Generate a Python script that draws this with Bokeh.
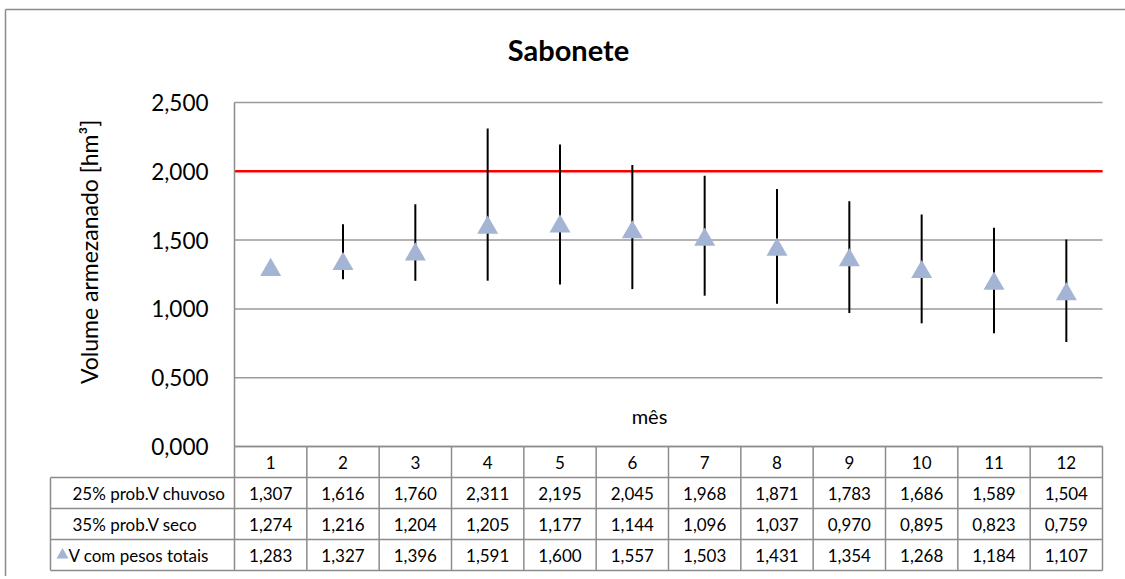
from math import pi
from bokeh.plotting import figure
from bokeh.models import (Range1d, FixedTicker, CustomJSTickFormatter, Label, LinearAxis,
                          ColumnDataSource, Grid)
from bokeh.embed import file_html
from bokeh.resources import INLINE
from bokeh.core.properties import value

# ---------------- data ----------------
titulo = "Sabonete"
eixo_y = "Volume  armezanado [hm³]"
eixo_x = "mês"
meses = [1, 2, 3, 4, 5, 6, 7, 8, 9, 10, 11, 12]
chuvoso = [1.307, 1.616, 1.760, 2.311, 2.195, 2.045, 1.968, 1.871, 1.783, 1.686, 1.589, 1.504]
seco = [1.274, 1.216, 1.204, 1.205, 1.177, 1.144, 1.096, 1.037, 0.970, 0.895, 0.823, 0.759]
pesos = [1.283, 1.327, 1.396, 1.591, 1.600, 1.557, 1.503, 1.431, 1.354, 1.268, 1.184, 1.107]
serie_nomes = ["25% prob.V chuvoso", "35% prob.V seco", "V com pesos totais"]
y_ticks = [0.0, 0.5, 1.0, 1.5, 2.0, 2.5]
limite = 2.0

# ---------------- layout (pixels) ----------------
FONT = "Lato"
GRAY = "#8c8c8c"
GRID = "#9a9a9a"
TRI = "#a3b4d4"
W, H = 1125, 576
F_L, F_R = 234, 1102          # plot area left/right
P_TOP, P_BOT = 102, 446       # plot area top / zero line
T_L = 50                      # table left edge
ROW = 31                      # table row height
BORDER_X, BORDER_Y = 5, 9     # chart-area border (left / top)
N = len(meses)
NR = len(serie_nomes)
COL = (F_R - F_L) / N
YPX = (P_BOT - P_TOP) / y_ticks[-1]
X0 = meses[0] - 0.5
X1 = meses[-1] + 0.5


def xpx(px):
    return X0 + (px - F_L) / COL


def ypx(py):
    return (P_BOT - py) / YPX


def tpx(py):
    return (NR + 1) - (py - P_BOT) / ROW


p = figure(width=W, height=H, output_backend="svg", toolbar_location=None,
           x_range=Range1d(xpx(0), xpx(W)), y_range=Range1d(ypx(H), ypx(0)),
           x_axis_location=None, y_axis_location=None, min_border=0, title=None)
p.extra_y_ranges = {"tab": Range1d(tpx(H), tpx(0))}
p.outline_line_color = None
p.background_fill_color = "#ffffff"
p.border_fill_color = "#ffffff"
for g in p.select(type=Grid):
    g.visible = False

# outer chart-area border (left and top edges; right/bottom lie outside the picture)
p.segment(x0=[xpx(BORDER_X), xpx(BORDER_X)], y0=[ypx(BORDER_Y), ypx(BORDER_Y)],
          x1=[xpx(BORDER_X), xpx(W + 10)], y1=[ypx(H + 10), ypx(BORDER_Y)],
          line_color=GRAY, line_width=1.5)

# horizontal grid lines of the plot area
p.segment(x0=[X0] * len(y_ticks), y0=y_ticks, x1=[X1] * len(y_ticks), y1=y_ticks,
          line_color=GRID, line_width=1.5)

# y axis (left border of plot area)
ax = LinearAxis(fixed_location=X0, bounds=(y_ticks[0], y_ticks[-1]))
ax.ticker = FixedTicker(ticks=y_ticks)
ax.formatter = CustomJSTickFormatter(code="return tick.toFixed(3).replace('.', ',');")
ax.axis_line_color = GRAY
ax.axis_line_width = 1.5
ax.major_tick_line_color = None
ax.minor_tick_line_color = None
ax.major_tick_out = 0
ax.major_tick_in = 0
ax.major_label_standoff = 26
ax.major_label_text_font = FONT
ax.major_label_text_font_size = "22.5px"
ax.major_label_text_color = "#000000"
p.add_layout(ax, "left")

# limit line
p.segment(x0=[X0], y0=[limite], x1=[X1], y1=[limite], line_color="#ff0000", line_width=2.5)

src = ColumnDataSource(dict(mes=meses, chuvoso=chuvoso, seco=seco, pesos=pesos))
p.segment(x0="mes", y0="seco", x1="mes", y1="chuvoso", source=src, line_color="#000000", line_width=2)
p.scatter(x="mes", y="pesos", source=src, marker="triangle", size=21, fill_color=TRI, line_color=None)

p.add_layout(Label(x=xpx(568), y=ypx(49), text=titulo, text_align="center", text_baseline="middle",
                   text_font=FONT, text_font_style="bold", text_font_size="29px", text_color="#000000"))
p.add_layout(Label(x=xpx(88), y=ypx(248.5), text=eixo_y, angle=pi / 2, text_align="center",
                   text_baseline="middle", text_font=FONT, text_font_size="23px", text_color="#000000"))
p.add_layout(Label(x=xpx(649), y=ypx(415), text=eixo_x, text_align="center", text_baseline="middle",
                   text_font=FONT, text_font_size="20px", text_color="#000000"))

# ---------------- data table ----------------
LX = xpx(T_L)
hy = [NR + 1] + list(range(NR, -1, -1))
hx0 = [X0] + [LX] * (NR + 1)
p.segment(x0=hx0, y0=hy, x1=[X1] * len(hy), y1=hy, y_range_name="tab", line_color=GRAY, line_width=1.5)
vx = [m - 0.5 for m in meses] + [X1]
p.segment(x0=vx, y0=[0] * len(vx), x1=vx, y1=[NR + 1] * len(vx), y_range_name="tab",
          line_color=GRAY, line_width=1.5)
p.segment(x0=[LX], y0=[0], x1=[LX], y1=[NR], y_range_name="tab", line_color=GRAY, line_width=1.5)

TFS = "17px"
p.text(x=meses, y=[NR + 0.5] * N, text=[str(m) for m in meses], y_range_name="tab", text_align="center",
       text_baseline="middle", text_font=value(FONT), text_font_size=TFS, text_color="#000000")

fmt = lambda v: f"{v:.3f}".replace(".", ",")
for i, serie in enumerate([chuvoso, seco, pesos]):
    yrow = NR - i - 0.5
    p.text(x=meses, y=[yrow] * N, text=[fmt(v) for v in serie], y_range_name="tab", text_align="center",
           text_baseline="middle", text_font=value(FONT), text_font_size=TFS, text_color="#000000")
    lx = xpx(72) if i < NR - 1 else xpx(68)
    p.text(x=[lx], y=[yrow], text=[serie_nomes[i]], y_range_name="tab", text_align="left",
           text_baseline="middle", text_font=value(FONT), text_font_size=TFS, text_color="#000000")
p.scatter(x=[xpx(62)], y=[0.5], y_range_name="tab", marker="triangle", size=12,
          fill_color=TRI, line_color=None)

open("out.html", "w").write(file_html(p, INLINE))
